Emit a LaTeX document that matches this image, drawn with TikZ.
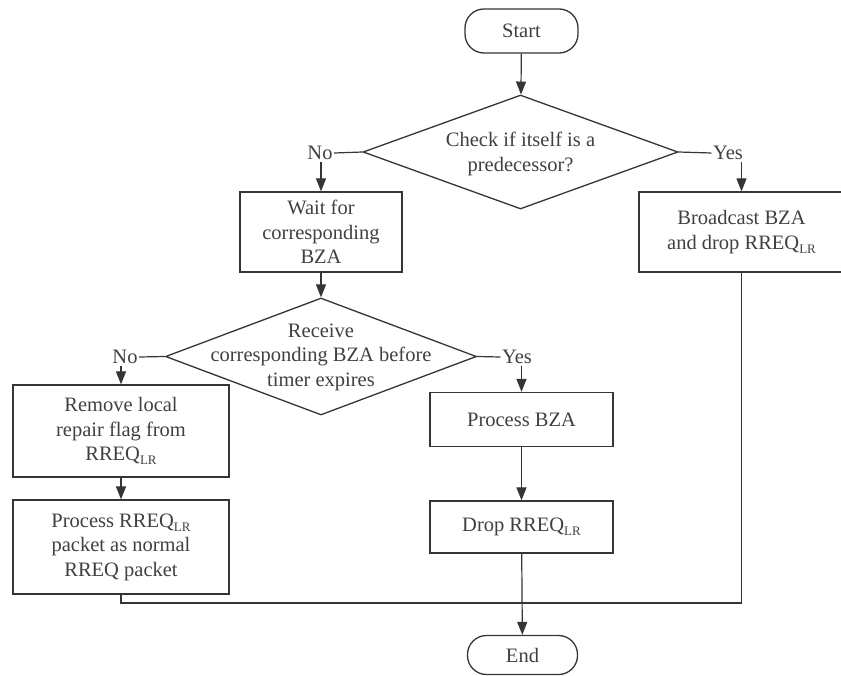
\documentclass[tikz,border=0pt]{standalone}
\usepackage{fontspec}
\setmainfont{Liberation Serif}
\usetikzlibrary{arrows.meta,shapes.geometric}

\definecolor{ln}{HTML}{353535}
\definecolor{txt}{HTML}{404040}

% small "LR" subscript used after RREQ
\newcommand\lrsub{\raisebox{-0.45ex}{\fontsize{13}{13}\selectfont LR}}

\tikzset{
  base/.style={font=\fontsize{20.5}{24.5}\selectfont, text=txt},
  box/.style={base, draw=ln, line width=1.3pt, rectangle, inner sep=0pt, align=center},
  term/.style={base, draw=ln, line width=1.3pt, rectangle, rounded corners=19pt, inner sep=0pt},
  dia/.style={draw=ln, line width=1.3pt, diamond, inner sep=0pt},
  lbl/.style={base, inner sep=1.5pt, align=center},
  link/.style={draw=ln, line width=1.2pt},
  arr/.style={link, -{Triangle[width=10pt,length=13pt]}},
}

\begin{document}
\begin{tikzpicture}[x=1pt, y=-1pt]
\useasboundingbox (0,0) rectangle (841,675);

% terminals
\node[term, minimum width=113pt, minimum height=44pt] (start) at (521.5,31) {Start};
\node[term, minimum width=110pt, minimum height=39pt] (end) at (522.5,655) {End};

% first decision
\node[dia, minimum width=315pt, minimum height=114pt] (q1) at (520.5,152) {};
\node[lbl] (q1t) at (520.5,154) {Check if itself is a\\predecessor?};
\node[lbl] (no1) at (320,153) {No};
\node[lbl] (yes1) at (728,153) {Yes};

\node[box, minimum width=162pt, minimum height=80pt] (wait) at (321,232) {Wait for\\corresponding\\BZA};
\node[box, minimum width=205pt, minimum height=80pt] (bcast) at (741.5,232) {Broadcast BZA\\and drop RREQ\lrsub};

% second decision
\node[dia, minimum width=311pt, minimum height=117pt] (q2) at (321,356.5) {};
\node[lbl] (q2t) at (321,357) {Receive\\corresponding BZA before\\timer expires};
\node[lbl] (no2) at (125,357) {No};
\node[lbl] (yes2) at (517,357) {Yes};

% left branch
\node[box, minimum width=216pt, minimum height=92pt] (remove) at (121,431) {Remove local\\repair flag from\\RREQ\lrsub};
\node[box, minimum width=216pt, minimum height=94pt] (rreq) at (121,547) {Process RREQ\lrsub\\packet as normal\\RREQ packet};

% right branch
\node[box, minimum width=183pt, minimum height=54pt] (pbza) at (521.5,419.5) {Process BZA};
\node[box, minimum width=183pt, minimum height=52pt] (drop) at (521.5,527) {Drop RREQ\lrsub};

\coordinate (join) at (741.5,603);

% connectors
\draw[arr] (start) -- (q1);
\draw[link] (q1.west) -- (no1.east);
\draw[link] (q1.east) -- (yes1.west);
\draw[arr] (no1.south -| wait.north) -- (wait.north);
\draw[arr] (yes1.south -| bcast.north) -- (bcast.north);
\draw[arr] (wait) -- (q2);
\draw[link] (q2.west) -- (no2.east);
\draw[link] (q2.east) -- (yes2.west);
\draw[arr] (no2.south -| remove.north) -- (remove.north);
\draw[arr] (yes2.south -| pbza.north) -- (pbza.north);
\draw[arr] (remove) -- (rreq);
\draw[arr] (pbza) -- (drop);
\draw[arr] (drop) -- (end);
\draw[link] (rreq.south) |- (join) -- (bcast.south);
\end{tikzpicture}
\end{document}
